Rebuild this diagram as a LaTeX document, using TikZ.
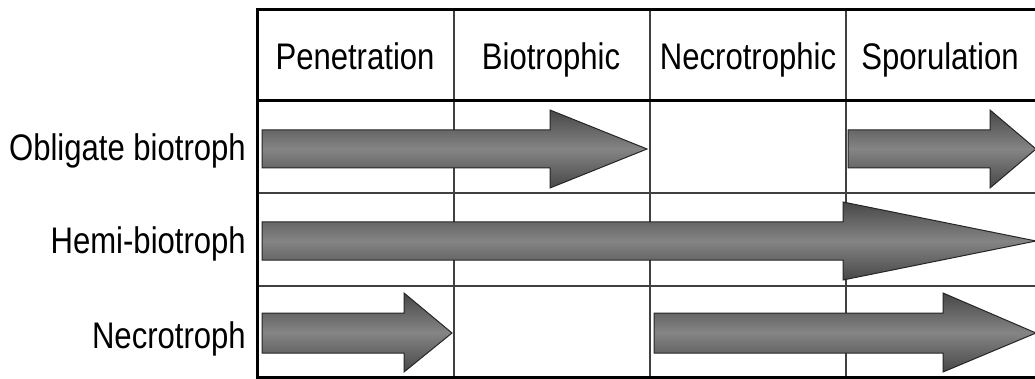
\documentclass[tikz,border=0pt]{standalone}
\usepackage{fontspec}
\setmainfont{Liberation Sans}[FakeStretch=0.84]
\begin{document}
\begin{tikzpicture}[x=1pt,y=-1pt,
  lbl/.style={font=\fontsize{37}{40}\selectfont, inner sep=0pt, anchor=base east},
  hdr/.style={font=\fontsize{37}{40}\selectfont, inner sep=0pt, anchor=base},
  thickline/.style={line width=3pt, black},
  gridline/.style={line width=1.3pt, black!75},
  arr/.style={draw=black!85, line width=1pt, line join=miter,
    top color=black!72, bottom color=black!72, middle color=black!48}]
\useasboundingbox (0,0) rectangle (1035,379);
% grid
\foreach \x in {454,650,846} \draw[gridline] (\x,10) -- (\x,377);
\foreach \y in {193,286} \draw[gridline] (257,\y) -- (1040,\y);
\draw[thickline] (1040,10) -- (257.5,10) -- (257.5,377.5) -- (1040,377.5);
\draw[thickline] (257,101) -- (1040,101);
% headers
\node[hdr] (h1) at (355,70) {Penetration};
\node[hdr] (h2) at (551,70) {Biotrophic};
\node[hdr] (h3) at (748,70) {Necrotrophic};
\node[hdr] (h4) at (940,70) {Sporulation};
% row labels
\node[lbl] (r1) at (246,161) {Obligate biotroph};
\node[lbl] (r2) at (246,254) {Hemi-biotroph};
\node[lbl] (r3) at (246,348) {Necrotroph};
% arrows row 1
\path[arr] (262,130) -- (550,130) -- (550,110) -- (647,149) -- (550,188) -- (550,168) -- (262,168) -- cycle;
\path[arr] (848,130) -- (990,130) -- (990,110) -- (1036,149) -- (990,188) -- (990,168) -- (848,168) -- cycle;
% arrow row 2
\path[arr] (262,222) -- (843,222) -- (843,202) -- (1036,241) -- (843,280) -- (843,260) -- (262,260) -- cycle;
% arrows row 3
\path[arr] (262,313) -- (404,313) -- (404,293) -- (452,333) -- (404,372) -- (404,353) -- (262,353) -- cycle;
\path[arr] (654,313) -- (943,313) -- (943,293) -- (1036,333) -- (943,372) -- (943,353) -- (654,353) -- cycle;
\end{tikzpicture}
\end{document}
